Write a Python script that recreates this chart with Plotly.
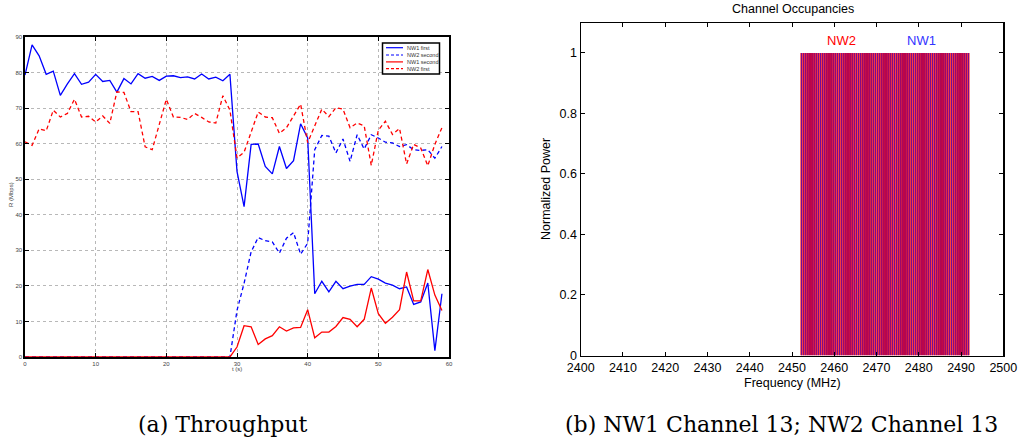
import plotly.graph_objects as go

W, H = 1027, 448

# ---------------- data: (a) Throughput ----------------
t_s = [0, 1, 2, 3, 4, 5, 6, 7, 8, 9, 10, 11, 12, 13, 14, 15, 16, 17, 18, 19,
       20, 21, 22, 23, 24, 25, 26, 27, 28, 29, 30, 31, 32, 33, 34, 35, 36, 37, 38, 39,
       40, 41, 42, 43, 44, 45, 46, 47, 48, 49, 50, 51, 52, 53, 54, 55, 56, 57, 58, 59]

nw1_first = [79.3, 87.8, 84.7, 79.5, 80.4, 73.6, 76.8, 79.7, 76.7, 77.3,
             79.5, 77.5, 77.8, 74.5, 78.3, 76.8, 79.7, 78.4, 78.9, 77.8,
             79.0, 79.1, 78.6, 78.8, 78.2, 79.6, 78.2, 78.7, 77.7, 79.5,
             52.2, 42.3, 59.8, 59.9, 53.6, 51.5, 59.2, 53.0, 55.2, 65.6,
             61.6, 17.8, 21.3, 18.3, 21.3, 19.2, 19.9, 20.4, 20.4, 22.6,
             21.9, 20.8, 20.2, 19.2, 19.7, 14.8, 15.5, 20.8, 1.8, 17.8]

nw2_second = [0, 0, 0, 0, 0, 0, 0, 0, 0, 0,
              0, 0, 0, 0, 0, 0, 0, 0, 0, 0,
              0, 0, 0, 0, 0, 0, 0, 0, 0, 0,
              13.1, 20.7, 29.6, 33.6, 32.7, 32.4, 29.2, 33.4, 35.0, 28.9,
              32.0, 58.3, 62.3, 62.1, 57.4, 61.3, 55.0, 62.5, 58.5, 62.5,
              61.6, 60.4, 60.2, 59.2, 59.7, 58.3, 58.1, 58.3, 55.9, 59.2]

nw1_second = [0, 0, 0, 0, 0, 0, 0, 0, 0, 0,
              0, 0, 0, 0, 0, 0, 0, 0, 0, 0,
              0, 0, 0, 0, 0, 0, 0, 0, 0, 0,
              2.8, 8.8, 8.5, 3.5, 5.1, 6.0, 8.5, 7.3, 8.2, 8.3,
              13.3, 5.4, 7.0, 7.0, 8.6, 11.1, 10.6, 8.5, 10.6, 19.4,
              12.2, 9.5, 11.2, 13.3, 23.9, 15.8, 15.8, 24.6, 17.4, 13.1]

nw2_first = [60.5, 59.5, 64.2, 63.6, 69.4, 67.5, 68.5, 72.5, 67.5, 67.7,
             66.1, 67.8, 65.7, 74.6, 74.4, 69.0, 69.0, 59.1, 58.3, 65.2,
             72.5, 67.5, 67.4, 66.8, 68.5, 67.4, 66.1, 65.8, 73.5, 69.4,
             56.0, 57.6, 63.5, 68.9, 67.5, 67.3, 62.9, 64.5, 67.8, 71.1,
             60.3, 65.0, 69.7, 67.6, 70.1, 69.7, 64.5, 65.8, 65.0, 53.9,
             63.8, 66.3, 62.6, 64.3, 54.3, 59.8, 58.8, 53.8, 59.8, 64.5]

a_xticks = [0, 10, 20, 30, 40, 50, 60]
a_yticks = [0, 10, 20, 30, 40, 50, 60, 70, 80, 90]

# ---------------- data: (b) Channel occupancies ----------------
subcarrier_mhz = [
    2452.25, 2452.75, 2453.25, 2453.75, 2454.25, 2454.75, 2455.25, 2455.75, 2456.25, 2456.75,
    2457.25, 2457.75, 2458.25, 2458.75, 2459.25, 2459.75, 2460.25, 2460.75, 2461.25, 2461.75,
    2462.25, 2462.75, 2463.25, 2463.75, 2464.25, 2464.75, 2465.25, 2465.75, 2466.25, 2466.75,
    2467.25, 2467.75, 2468.25, 2468.75, 2469.25, 2469.75, 2470.25, 2470.75, 2471.25, 2471.75,
    2472.25, 2472.75, 2473.25, 2473.75, 2474.25, 2474.75, 2475.25, 2475.75, 2476.25, 2476.75,
    2477.25, 2477.75, 2478.25, 2478.75, 2479.25, 2479.75, 2480.25, 2480.75, 2481.25, 2481.75,
    2482.25, 2482.75, 2483.25, 2483.75, 2484.25, 2484.75, 2485.25, 2485.75, 2486.25, 2486.75,
    2487.25, 2487.75, 2488.25, 2488.75, 2489.25, 2489.75, 2490.25, 2490.75, 2491.25, 2491.75]

nw2_power = [1, 1, 1, 1, 1, 1, 1, 1, 1, 1, 1, 1, 1, 1, 1, 1, 1, 1, 1, 1,
             1, 1, 1, 1, 1, 1, 1, 1, 1, 1, 1, 1, 1, 1, 1, 1, 1, 1, 1, 1,
             1, 1, 1, 1, 1, 1, 1, 1, 1, 1, 1, 1, 1, 1, 1, 1, 1, 1, 1, 1,
             1, 1, 1, 1, 1, 1, 1, 1, 1, 1, 1, 1, 1, 1, 1, 1, 1, 1, 1, 1]
nw1_power = [1, 1, 1, 1, 1, 1, 1, 1, 1, 1, 1, 1, 1, 1, 1, 1, 1, 1, 1, 1,
             1, 1, 1, 1, 1, 1, 1, 1, 1, 1, 1, 1, 1, 1, 1, 1, 1, 1, 1, 1,
             1, 1, 1, 1, 1, 1, 1, 1, 1, 1, 1, 1, 1, 1, 1, 1, 1, 1, 1, 1,
             1, 1, 1, 1, 1, 1, 1, 1, 1, 1, 1, 1, 1, 1, 1, 1, 1, 1, 1, 1]

b_xticks = [2400, 2410, 2420, 2430, 2440, 2450, 2460, 2470, 2480, 2490, 2500]
b_yticks = [0, 0.2, 0.4, 0.6, 0.8, 1]
b_yticklabels = ["0", "0.2", "0.4", "0.6", "0.8", "1"]

net_labels = ["NW2", "NW1"]
net_label_freq = [2461.8, 2480.7]
net_label_level = 1.042

series_names = ["NW1 first", "NW2 second", "NW1 second", "NW2 first"]

# ---------------- helpers: page pixel -> paper fraction ----------------
def px_x(p):
    return p / W

def px_y(p):
    return 1 - p / H

BLUE = "#0000ff"
RED = "#ff0000"
DASH = "4px,3px"
SANS = "Liberation Sans, Arial, sans-serif"

fig = go.Figure()

line_specs = [
    (nw1_first, BLUE, "solid"),
    (nw2_second, BLUE, DASH),
    (nw1_second, RED, "solid"),
    (nw2_first, RED, DASH),
]
for name, (vals, col, dash) in zip(series_names, line_specs):
    fig.add_trace(go.Scatter(
        x=t_s, y=vals, mode="lines", name=name,
        line=dict(color=col, width=1.3, dash=dash),
        xaxis="x", yaxis="y", showlegend=False))

fig.add_trace(go.Bar(
    x=subcarrier_mhz, y=nw2_power, width=0.5, name="NW2",
    marker=dict(color=RED, line=dict(width=0)),
    xaxis="x2", yaxis="y2", showlegend=False))
fig.add_trace(go.Bar(
    x=subcarrier_mhz, y=nw1_power, width=0.25, name="NW1",
    marker=dict(color="rgba(20,20,255,0.6)", line=dict(width=0)),
    xaxis="x2", yaxis="y2", showlegend=False))

small_font = dict(family=SANS, size=6, color="#444444")
common = dict(automargin=False, zeroline=False, showline=True, linecolor="black",
              mirror="ticks", ticks="inside", ticklen=4, tickcolor="black")
fig.update_layout(
    template="none",
    width=W, height=H, autosize=False,
    margin=dict(l=0, r=0, t=0, b=0, pad=0, autoexpand=False),
    paper_bgcolor="white", plot_bgcolor="white",
    barmode="overlay", showlegend=False, hovermode=False,
    xaxis=dict(domain=[px_x(25), px_x(449)], range=[0, 60], tickvals=a_xticks,
               showgrid=True, gridcolor="#b8b8b8", griddash="dot", gridwidth=1,
               linewidth=1.6, tickfont=small_font, anchor="y", **common),
    yaxis=dict(domain=[px_y(357), px_y(37)], range=[0, 90], tickvals=a_yticks,
               showgrid=True, gridcolor="#b8b8b8", griddash="dot", gridwidth=1,
               linewidth=1.6, tickfont=small_font, anchor="x", **common),
    xaxis2=dict(domain=[px_x(580.7), px_x(1003.3)], range=[2400, 2500], tickvals=b_xticks,
                showgrid=False, linewidth=1.2,
                tickfont=dict(family=SANS, size=12.5, color="black"), anchor="y2", **common),
    yaxis2=dict(domain=[px_y(355.5), px_y(22.7)], range=[0, 1.1], tickvals=b_yticks,
                ticktext=b_yticklabels, showgrid=False, linewidth=1.2,
                tickfont=dict(family=SANS, size=12.5, color="black"), anchor="x2", **common),
)

ann = []

def add_text(text, x, y, font, xref="paper", yref="paper", angle=0, xanchor="center"):
    ann.append(dict(text=text, x=x, y=y, xref=xref, yref=yref, textangle=angle,
                    xanchor=xanchor, yanchor="middle", showarrow=False, font=font))

tiny = dict(family=SANS, size=6, color="#444444")
mid = dict(family=SANS, size=12.5, color="black")
cap = dict(family="DejaVu Serif, serif", size=22, color="black")

add_text("R (Mbps)", px_x(11), px_y(195), tiny, angle=-90)
add_text("t (s)", px_x(237), px_y(369), tiny)
add_text("Channel Occupancies", px_x(793), px_y(8.5), mid)
add_text("Frequency (MHz)", px_x(792), px_y(382.5), mid)
add_text("Normalized Power", px_x(546), px_y(189), mid, angle=-90)
for lab, f, col in zip(net_labels, net_label_freq, [RED, "#3333ff"]):
    add_text(lab, f, net_label_level, dict(family=SANS, size=13, color=col), xref="x2", yref="y2")
add_text("(a) Throughput", px_x(223), px_y(424), cap)
add_text("(b) NW1 Channel 13; NW2 Channel 13", px_x(781.5), px_y(424), cap)

# hand-drawn legend for (a)
shapes = []
lg_x0, lg_x1, lg_y0, lg_y1 = 382.5, 439.5, 43, 74
shapes.append(dict(type="rect", xref="paper", yref="paper",
                   x0=px_x(lg_x0), x1=px_x(lg_x1), y0=px_y(lg_y1), y1=px_y(lg_y0),
                   line=dict(color="black", width=1.5), fillcolor="white", layer="above"))
row_y = [47.7, 55.0, 61.9, 68.7]
for name, (vals, col, dash), ry in zip(series_names, line_specs, row_y):
    shapes.append(dict(type="line", xref="paper", yref="paper",
                       x0=px_x(386), x1=px_x(403), y0=px_y(ry), y1=px_y(ry),
                       line=dict(color=col, width=1.2, dash=("solid" if dash == "solid" else "3px,2px")),
                       layer="above"))
    add_text(name, px_x(405), px_y(ry), dict(family=SANS, size=5.5, color="#333333"), xanchor="left")

fig.update_layout(annotations=ann, shapes=shapes)

# remove the default page margin so the figure sits at the window's top-left corner
fig.write_html("out.html",
               config={"displayModeBar": False, "staticPlot": True},
               post_script="document.body.style.margin='0';document.body.style.overflow='hidden';")
